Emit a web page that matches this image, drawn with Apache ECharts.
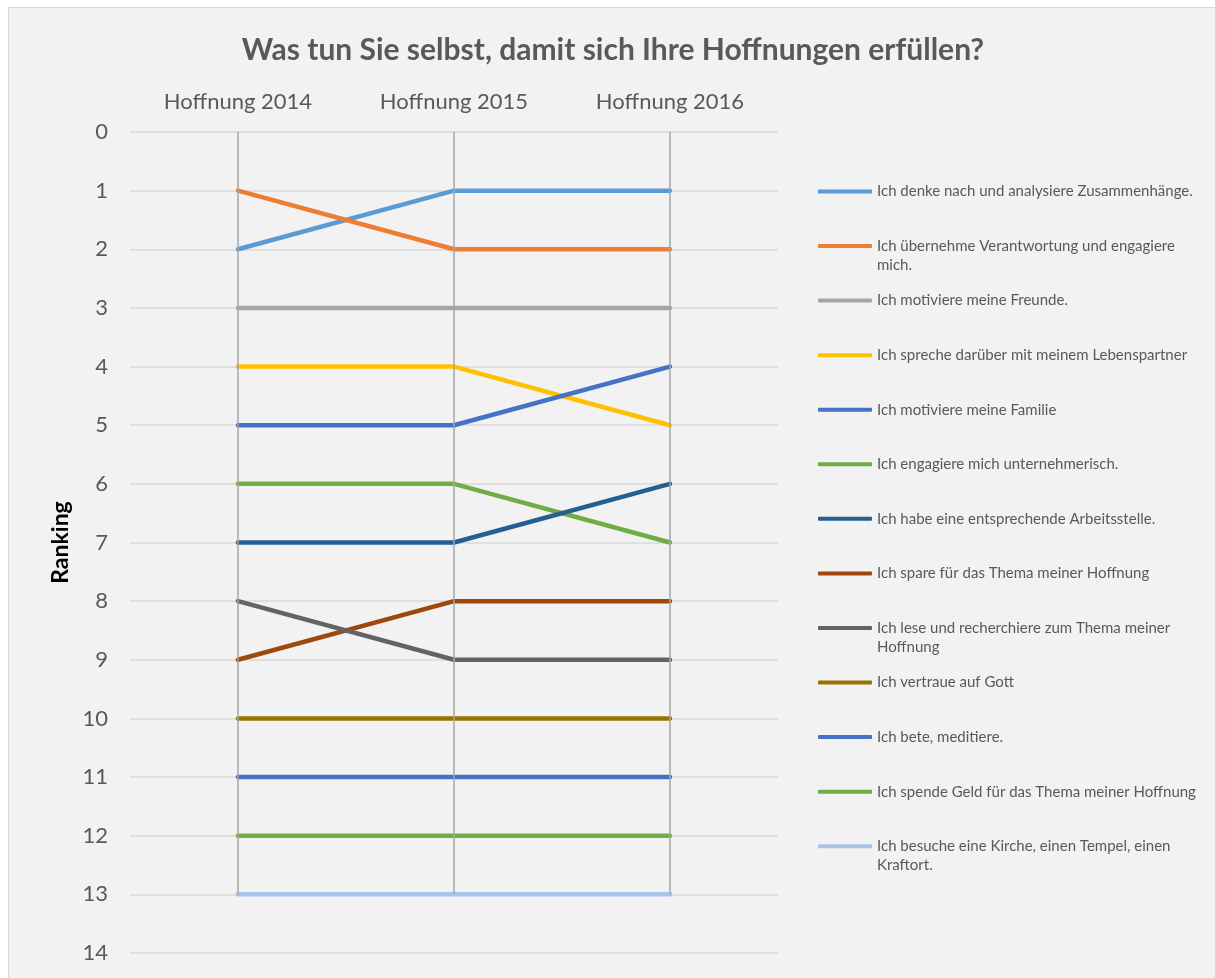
<!DOCTYPE html>
<html>
<head>
<meta charset="utf-8">
<script src="https://cdn.jsdelivr.net/npm/echarts@6/dist/echarts.min.js"></script>
<style>
html,body{margin:0;padding:0;background:#fff;overflow:hidden;width:1215px;height:978px;}
#c{position:absolute;left:8px;top:7px;width:1208px;height:980px;border:1px solid #d9d9d9;background:#f2f2f2;}
</style>
</head>
<body>
<div id="c"></div>
<script>
const categories = ['Hoffnung 2014', 'Hoffnung 2015', 'Hoffnung 2016'];
const seriesNames = [
  'Ich denke nach und analysiere Zusammenhänge.',
  'Ich übernehme Verantwortung und engagiere mich.',
  'Ich motiviere meine Freunde.',
  'Ich spreche darüber mit meinem Lebenspartner',
  'Ich motiviere meine Familie',
  'Ich engagiere mich unternehmerisch.',
  'Ich habe eine entsprechende Arbeitsstelle.',
  'Ich spare für das Thema meiner Hoffnung',
  'Ich lese und recherchiere zum Thema meiner Hoffnung',
  'Ich vertraue auf Gott',
  'Ich bete, meditiere.',
  'Ich spende Geld für das Thema meiner Hoffnung',
  'Ich besuche eine Kirche, einen Tempel, einen Kraftort.'
];
// legend lines as wrapped in the reference
const legendLines = [
  ['Ich denke nach und analysiere Zusammenhänge.'],
  ['Ich übernehme Verantwortung und engagiere', 'mich.'],
  ['Ich motiviere meine Freunde.'],
  ['Ich spreche darüber mit meinem Lebenspartner'],
  ['Ich motiviere meine Familie'],
  ['Ich engagiere mich unternehmerisch.'],
  ['Ich habe eine entsprechende Arbeitsstelle.'],
  ['Ich spare für das Thema meiner Hoffnung'],
  ['Ich lese und recherchiere zum Thema meiner', 'Hoffnung'],
  ['Ich vertraue auf Gott'],
  ['Ich bete, meditiere.'],
  ['Ich spende Geld für das Thema meiner Hoffnung'],
  ['Ich besuche eine Kirche, einen Tempel, einen', 'Kraftort.']
];
const rankings = [
  [2, 1, 1],
  [1, 2, 2],
  [3, 3, 3],
  [4, 4, 5],
  [5, 5, 4],
  [6, 6, 7],
  [7, 7, 6],
  [9, 8, 8],
  [8, 9, 9],
  [10, 10, 10],
  [11, 11, 11],
  [12, 12, 12],
  [13, 13, 13]
];
const colors = ['#5B9BD5','#ED7D31','#A5A5A5','#FFC000','#4472C4','#70AD47','#255E91','#9E480E','#636363','#997300','#4472C4','#70AD47','#A9C4EB'];
const yTicks = {min: 0, max: 14, interval: 1};

const FONT = 'Lato';
const maxRank = Math.max(...rankings.flat());

const series = seriesNames.map((n, i) => ({
  name: n,
  type: 'line',
  data: rankings[i],
  symbol: 'none',
  lineStyle: {width: 4.5, color: colors[i], cap: 'round'},
  itemStyle: {color: colors[i]},
  z: 2
}));
series.push({
  type: 'line',
  name: '_drop',
  data: [],
  symbol: 'none',
  silent: true,
  z: 5,
  markLine: {
    silent: true,
    symbol: 'none',
    label: {show: false},
    lineStyle: {color: '#a6a6a6', width: 1.5, type: 'solid'},
    data: categories.map(c => [{coord: [c, 0]}, {coord: [c, maxRank]}])
  }
});

const labelMap = {};
seriesNames.forEach((n, i) => {
  const L = legendLines[i];
  labelMap[n] = L.length > 1 ? '\n' + L[0] + '\n' + L[1] : '\n' + L[0] + '\n';
});

const chart = echarts.init(document.getElementById('c'), null, {renderer: 'canvas'});
chart.setOption({
  backgroundColor: '#f2f2f2',
  animation: false,
  color: colors,
  title: {
    text: 'Was tun Sie selbst, damit sich Ihre Hoffnungen erfüllen?',
    left: 'center',
    top: 22,
    textStyle: {fontFamily: FONT, fontWeight: 'bold', fontSize: 30, color: '#595959'}
  },
  legend: {
    orient: 'vertical',
    left: 809,
    top: 155,
    padding: 0,
    itemWidth: 54,
    itemHeight: 4,
    itemGap: -2.44,
    icon: 'roundRect',
    data: seriesNames,
    formatter: name => labelMap[name],
    textStyle: {fontFamily: FONT, fontSize: 15, color: '#595959', lineHeight: 19},
    selectedMode: false
  },
  grid: {left: 121, top: 124, width: 648, height: 821},
  xAxis: {
    type: 'category',
    position: 'top',
    data: categories,
    boundaryGap: true,
    axisLine: {show: false},
    axisTick: {show: false},
    axisLabel: {fontFamily: FONT, fontSize: 22, color: '#595959', margin: 19},
    splitLine: {show: false}
  },
  yAxis: {
    type: 'value',
    inverse: true,
    min: yTicks.min,
    max: yTicks.max,
    interval: yTicks.interval,
    name: 'Ranking',
    nameLocation: 'middle',
    nameRotate: 90,
    nameGap: 56,
    nameTextStyle: {fontFamily: FONT, fontWeight: 'bold', fontSize: 23, color: '#000'},
    axisLine: {show: false},
    axisTick: {show: false},
    axisLabel: {fontFamily: FONT, fontSize: 22, color: '#595959', margin: 22},
    splitLine: {lineStyle: {color: '#d9d9d9', width: 1.5}}
  },
  series: series
});
</script>
</body>
</html>
